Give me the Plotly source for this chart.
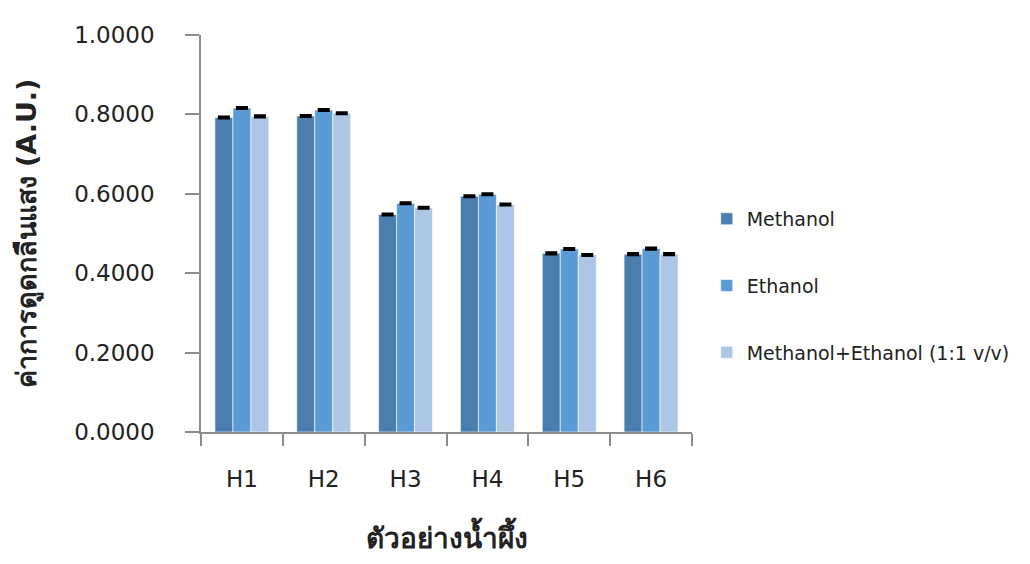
import plotly.graph_objects as go

samples = ["H1", "H2", "H3", "H4", "H5", "H6"]
methanol = [0.792, 0.796, 0.548, 0.594, 0.450, 0.448]
ethanol = [0.816, 0.811, 0.576, 0.599, 0.461, 0.462]
mixed = [0.795, 0.803, 0.565, 0.573, 0.446, 0.448]
methanol_err = [0.002, 0.002, 0.002, 0.002, 0.002, 0.002]
ethanol_err = [0.002, 0.002, 0.002, 0.002, 0.002, 0.002]
mixed_err = [0.002, 0.002, 0.002, 0.002, 0.002, 0.002]

series = [
    ("Methanol", methanol, methanol_err, "#4A7EAF"),
    ("Ethanol", ethanol, ethanol_err, "#5B9BD5"),
    ("Methanol+Ethanol (1:1 v/v)", mixed, mixed_err, "#ADC6E6"),
]

font_main = "DejaVu Sans, Noto Sans, sans-serif"

fig = go.Figure()
for name, vals, errs, color in series:
    fig.add_trace(go.Bar(
        x=samples, y=vals, name=name, legendgroup=name,
        marker=dict(color=color, line=dict(color="white", width=0.6)),
        error_y=dict(type="data", array=errs, visible=True,
                     color="black", thickness=2.5, width=6),
    ))

fig.update_layout(
    width=1030, height=564,
    margin=dict(l=201, r=338, t=35, b=132),
    paper_bgcolor="white", plot_bgcolor="white",
    barmode="group", bargap=0.34, bargroupgap=0,
    font=dict(family=font_main, color="#222222"),
    showlegend=True,
    legend=dict(x=1.03, y=0.368, xanchor="left", yanchor="middle",
                traceorder="grouped", tracegroupgap=39,
                borderwidth=0, itemwidth=30,
                font=dict(size=19, color="#222222")),
)

fig.update_xaxes(
    showline=True, linecolor="#8C8C8C", linewidth=1.5,
    ticks="outside", tickson="boundaries", ticklen=12, tickcolor="#8C8C8C",
    tickwidth=1.5, tickfont=dict(size=23), ticklabelstandoff=26,
    title=dict(text="<b>ตัวอย่างน้ำผึ้ง</b>", font=dict(size=28), standoff=37),
    showgrid=False,
)
fig.update_yaxes(
    range=[0, 1.0], dtick=0.2, tickformat=".4f",
    showline=True, linecolor="#8C8C8C", linewidth=1.5,
    ticks="outside", ticklen=14, tickcolor="#8C8C8C", tickwidth=1.5,
    tickfont=dict(size=23), ticklabelstandoff=26,
    showgrid=False, zeroline=False,
    title=dict(text="<b>ค่าการดูดกลืนแสง (A.U.)</b>", font=dict(size=27), standoff=30),
)

fig.write_html("out.html")
